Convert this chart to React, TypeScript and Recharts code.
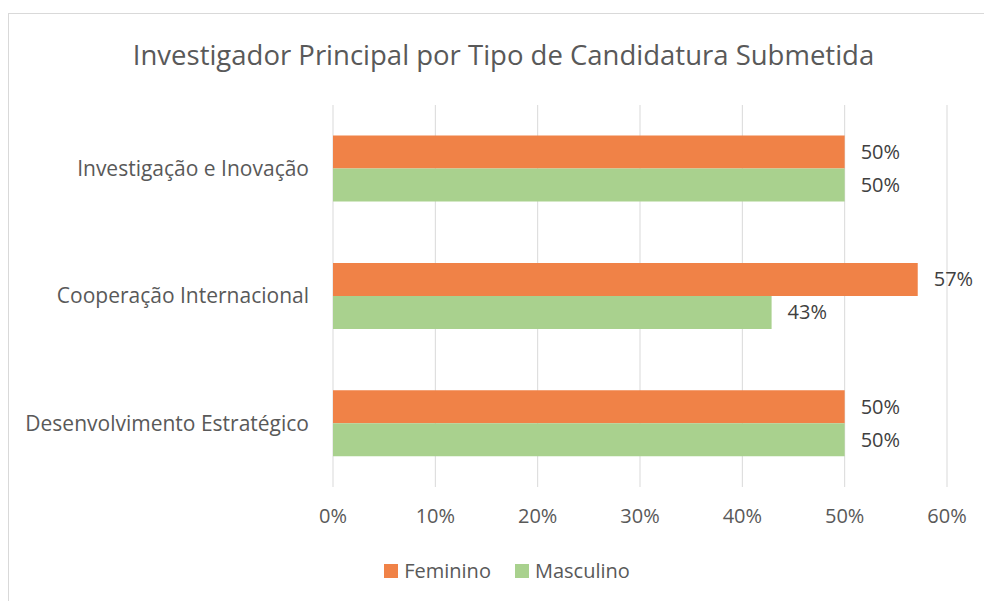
import { BarChart, Bar, XAxis, YAxis, CartesianGrid, Legend, LabelList } from 'recharts'

const categories = ['Investigação e Inovação', 'Cooperação Internacional', 'Desenvolvimento Estratégico']
const feminino = [0.5, 0.5714, 0.5]
const masculino = [0.5, 0.4286, 0.5]
const xTicks = [0, 0.1, 0.2, 0.3, 0.4, 0.5, 0.6]

const data = categories.map((name, i) => ({
  name,
  Feminino: feminino[i],
  Masculino: masculino[i],
}))

const FONT = '"Open Sans", sans-serif'
const pct = (v: number) => `${Math.round(v * 100)}%`

function LegendBox() {
  const items = [
    { label: 'Feminino', color: '#F08247' },
    { label: 'Masculino', color: '#A9D18E' },
  ]
  return (
    <div
      style={{
        display: 'flex',
        justifyContent: 'center',
        gap: 24,
        paddingLeft: 58,
        fontFamily: FONT,
        fontSize: 20,
        color: '#595959',
      }}
    >
      {items.map((it) => (
        <div key={it.label} style={{ display: 'flex', alignItems: 'center' }}>
          <span style={{ width: 14, height: 14, background: it.color, display: 'inline-block', marginRight: 6 }} />
          {it.label}
        </div>
      ))}
    </div>
  )
}

export default function App() {
  return (
    <div
      style={{
        position: 'absolute',
        left: 8,
        top: 13,
        width: 976,
        height: 587,
        borderLeft: '1px solid #d9d9d9',
        borderTop: '1px solid #d9d9d9',
        background: '#fff',
      }}
    >
      <div
        style={{
          position: 'absolute',
          left: 0,
          top: 22,
          width: 989,
          textAlign: 'center',
          fontFamily: FONT,
          fontSize: 27.5,
          color: '#595959',
        }}
      >
        Investigador Principal por Tipo de Candidatura Submetida
      </div>
      <BarChart
        width={975}
        height={587}
        data={data}
        layout="vertical"
        barCategoryGap="24%"
        barGap={0}
        margin={{ top: 91, right: 37, left: 0, bottom: 17 }}
      >
        <CartesianGrid horizontal={false} stroke="#d9d9d9" />
        <XAxis
          type="number"
          domain={[0, 0.6]}
          ticks={xTicks}
          tickFormatter={pct}
          axisLine={false}
          tickLine={false}
          tickMargin={16}
          height={70}
          tick={{ fill: '#595959', fontSize: 20, fontFamily: FONT }}
        />
        <YAxis
          type="category"
          dataKey="name"
          width={324}
          axisLine={false}
          tickLine={false}
          tickMargin={18}
          tick={{ fill: '#595959', fontSize: 21, fontFamily: FONT }}
        />
        <Legend verticalAlign="bottom" content={() => <LegendBox />} />
        <Bar dataKey="Feminino" fill="#F08247" isAnimationActive={false}>
          <LabelList dataKey="Feminino" position="right" offset={16} formatter={(v: unknown) => pct(Number(v))} fill="#404040" fontSize={20} fontFamily={FONT} />
        </Bar>
        <Bar dataKey="Masculino" fill="#A9D18E" isAnimationActive={false}>
          <LabelList dataKey="Masculino" position="right" offset={16} formatter={(v: unknown) => pct(Number(v))} fill="#404040" fontSize={20} fontFamily={FONT} />
        </Bar>
      </BarChart>
    </div>
  )
}
